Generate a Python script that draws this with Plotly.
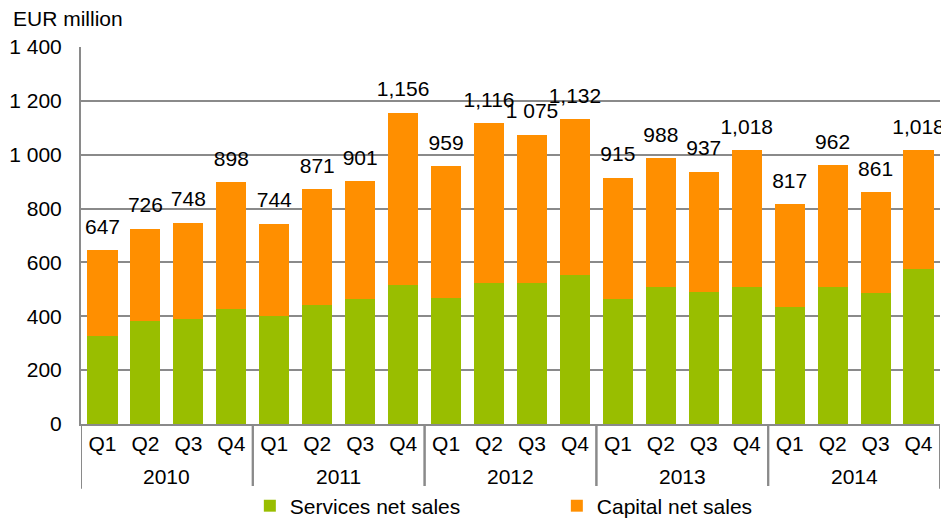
import plotly.graph_objects as go

years = ["2010"] * 4 + ["2011"] * 4 + ["2012"] * 4 + ["2013"] * 4 + ["2014"] * 4
quarters = ["Q1", "Q2", "Q3", "Q4"] * 5
totals = [647, 726, 748, 898, 744, 871, 901, 1156, 959, 1116, 1075, 1132,
          915, 988, 937, 1018, 817, 962, 861, 1018]
total_labels = ["647", "726", "748", "898", "744", "871", "901", "1,156", "959", "1,116",
                "1 075", "1,132", "915", "988", "937", "1,018", "817", "962", "861", "1,018"]
services = [328, 381, 389, 426, 402, 441, 463, 515, 469, 522, 522, 552,
            463, 507, 492, 507, 433, 507, 485, 574]
capital = [t - s for t, s in zip(totals, services)]

GREEN = "#99BE00"
ORANGE = "#FF8F00"
GRID = "#8A8A8A"
FONT = "Liberation Sans, Arial, sans-serif"
FS = 21

idx = list(range(len(quarters)))

fig = go.Figure()
fig.add_trace(go.Bar(x=idx, y=services, name="Services net sales", marker_color=GREEN,
                     marker_line_width=0))
fig.add_trace(go.Bar(x=idx, y=capital, name="Capital net sales", marker_color=ORANGE,
                     marker_line_width=0))
fig.add_trace(go.Scatter(x=idx, y=totals, mode="markers+text", text=total_labels,
                         textposition="top center", showlegend=False,
                         marker=dict(size=16, opacity=0), cliponaxis=False,
                         textfont=dict(size=FS, color="#000", family=FONT),
                         hoverinfo="skip"))

# year group labels and dividers, derived from the data
groups = []
for i, y in enumerate(years):
    if not groups or groups[-1][0] != y:
        groups.append([y, i, i])
    else:
        groups[-1][2] = i

annotations = [dict(text="EUR million", xref="paper", yref="paper", x=-0.0803, y=1.0756,
                    xanchor="left", yanchor="middle", showarrow=False, height=19,
                    borderpad=0, font=dict(size=FS))]
shapes = []
for y, a, b in groups:
    annotations.append(dict(text=y, xref="x", yref="paper", x=(a + b) / 2, y=-0.138,
                            xanchor="center", yanchor="middle", showarrow=False,
                            font=dict(size=FS)))
    for edge in (a - 0.5, b + 0.5):
        shapes.append(dict(type="line", xref="x", yref="paper", x0=edge, x1=edge,
                           y0=0, y1=-0.172, line=dict(color=GRID, width=2)))

# page body has an 8px margin, so the figure is sized/offset to compensate
fig.update_layout(
    width=941, height=511,
    barmode="stack", bargap=0.3,
    plot_bgcolor="white", paper_bgcolor="white",
    separators=". ",
    font=dict(family=FONT, size=FS, color="#000"),
    margin=dict(l=73, r=9, t=39, b=95),
    showlegend=True,
    legend=dict(orientation="h", xref="container", yref="container",
                x=0.257, xanchor="left", y=0.0254, yanchor="middle",
                font=dict(size=FS), traceorder="normal", itemwidth=30,
                entrywidth=262, entrywidthmode="pixels"),
    annotations=annotations,
    shapes=shapes,
)
fig.update_yaxes(range=[0, 1400], dtick=200, tickformat=",d", showgrid=True,
                 gridcolor=GRID, gridwidth=2, showline=True, linecolor=GRID,
                 linewidth=2, zeroline=False, ticks="", ticklabelstandoff=13,
                 automargin=False)
fig.update_xaxes(range=[-0.5, len(idx) - 0.5], tickvals=idx, ticktext=quarters,
                 showline=True, linecolor=GRID, linewidth=2, showgrid=False,
                 zeroline=False, ticks="", automargin=False, ticklabelstandoff=0)

fig.write_html("out.html")
